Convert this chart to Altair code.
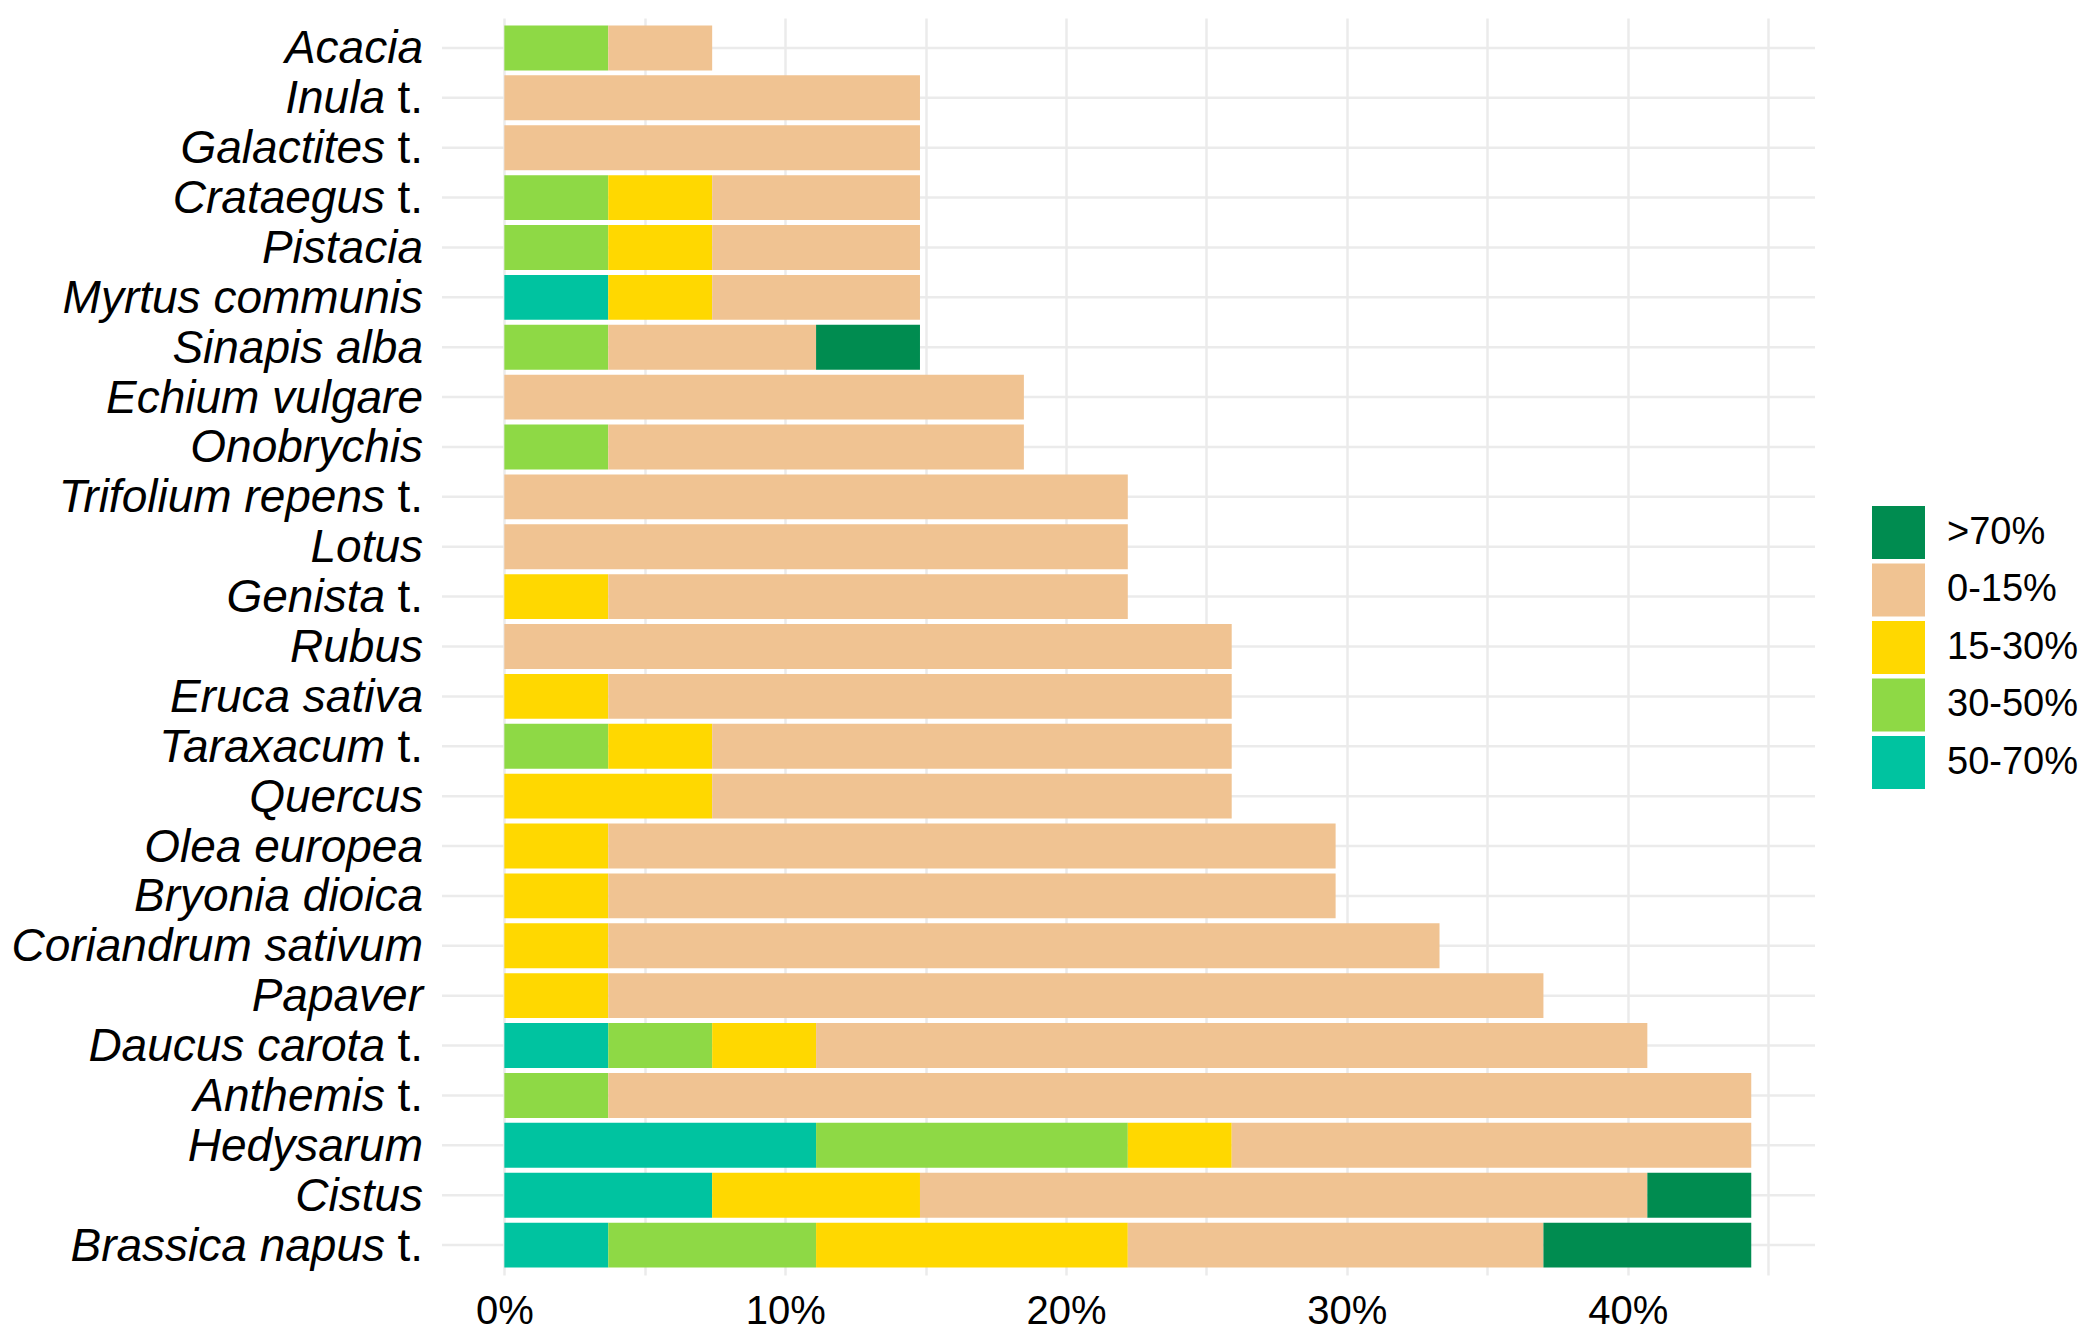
import altair as alt
import pandas as pd

# Taxa from top to bottom
taxa = ["Acacia", "Inula t.", "Galactites t.", "Crataegus t.", "Pistacia",
        "Myrtus communis", "Sinapis alba", "Echium vulgare", "Onobrychis",
        "Trifolium repens t.", "Lotus", "Genista t.", "Rubus", "Eruca sativa",
        "Taraxacum t.", "Quercus", "Olea europea", "Bryonia dioica",
        "Coriandrum sativum", "Papaver", "Daucus carota t.", "Anthemis t.",
        "Hedysarum", "Cistus", "Brassica napus t."]
italic_names = ["Acacia", "Inula", "Galactites", "Crataegus", "Pistacia",
                "Myrtus communis", "Sinapis alba", "Echium vulgare", "Onobrychis",
                "Trifolium repens", "Lotus", "Genista", "Rubus", "Eruca sativa",
                "Taraxacum", "Quercus", "Olea europea", "Bryonia dioica",
                "Coriandrum sativum", "Papaver", "Daucus carota", "Anthemis",
                "Hedysarum", "Cistus", "Brassica napus"]
suffixes = ["", "t.", "t.", "t.", "", "", "", "", "", "t.", "", "t.", "", "",
            "t.", "", "", "", "", "", "t.", "t.", "", "", "t."]

# Legend classes (legend order) and colours
classes = [">70%", "0-15%", "15-30%", "30-50%", "50-70%"]
colors = ["#008C50", "#F0C392", "#FFD800", "#8ED945", "#00C3A0"]
# stacking order from left to right
stack_order = ["50-70%", "30-50%", "15-30%", "0-15%", ">70%"]

# Segment widths (% of samples) per class, one value per taxon (top to bottom)
pct_50_70 = [0, 0, 0, 0, 0, 3.7, 0, 0, 0, 0, 0, 0, 0, 0, 0, 0, 0, 0, 0, 0,
             3.7, 0, 11.1, 7.4, 3.7]
pct_30_50 = [3.7, 0, 0, 3.7, 3.7, 0, 3.7, 0, 3.7, 0, 0, 0, 0, 0, 3.7, 0, 0, 0,
             0, 0, 3.7, 3.7, 11.1, 0, 7.4]
pct_15_30 = [0, 0, 0, 3.7, 3.7, 3.7, 0, 0, 0, 0, 0, 3.7, 0, 3.7, 3.7, 7.4, 3.7,
             3.7, 3.7, 3.7, 3.7, 0, 3.7, 7.4, 11.1]
pct_0_15 = [3.7, 14.8, 14.8, 7.4, 7.4, 7.4, 7.4, 18.5, 14.8, 22.2, 22.2, 18.5,
            25.9, 22.2, 18.5, 18.5, 25.9, 25.9, 29.6, 33.3, 29.6, 40.7, 18.5,
            25.9, 14.8]
pct_70 = [0, 0, 0, 0, 0, 0, 3.7, 0, 0, 0, 0, 0, 0, 0, 0, 0, 0, 0, 0, 0, 0, 0,
          0, 3.7, 7.4]

series = {"50-70%": pct_50_70, "30-50%": pct_30_50, "15-30%": pct_15_30,
          "0-15%": pct_0_15, ">70%": pct_70}

rows = []
for i, t in enumerate(taxa):
    for cls in stack_order:
        v = series[cls][i]
        if v > 0:
            rows.append({"taxon": t, "cls": cls, "value": v,
                         "ord": stack_order.index(cls)})
df = pd.DataFrame(rows)
lab = pd.DataFrame({"taxon": taxa, "name": italic_names, "suffix": suffixes})

FONT = "Liberation Sans"
GRID = "#EBEBEB"

yenc = alt.Y("taxon:N", sort=taxa, axis=None,
             scale=alt.Scale(paddingInner=0.1, paddingOuter=0.15))

xscale = alt.Scale(domain=[-2.22, 46.67], nice=False, zero=False)

hgrid = alt.Chart(lab).mark_rule(color=GRID, strokeWidth=2.5).encode(y=yenc)

bars = alt.Chart(df).mark_bar().encode(
    x=alt.X("value:Q", stack="zero", scale=xscale, title=None,
            axis=alt.Axis(values=[0, 5, 10, 15, 20, 25, 30, 35, 40, 45],
                          labelExpr="datum.value % 10 === 0 ? datum.value + '%' : ''",
                          grid=True, gridColor=GRID, gridWidth=2.5,
                          ticks=False, domain=False, labelFont=FONT,
                          labelFontSize=40, labelColor="black",
                          labelPadding=16, labelBaseline="top")),
    y=yenc,
    color=alt.Color("cls:N", scale=alt.Scale(domain=classes, range=colors),
                    legend=alt.Legend(title=None, orient="none", legendX=1430,
                                      legendY=488, symbolType="square",
                                      symbolSize=2809, symbolStrokeWidth=0,
                                      symbolOpacity=1, labelFont=FONT,
                                      labelFontSize=38, labelColor="black",
                                      labelOffset=22, rowPadding=4.5,
                                      padding=0)),
    order=alt.Order("ord:Q"),
)

txt_kw = dict(baseline="alphabetic", dy=15.5, font=FONT, fontSize=46,
              color="black", align="right")

names_plain = alt.Chart(lab).transform_filter("datum.suffix == ''").mark_text(
    fontStyle="italic", **txt_kw).encode(y=yenc, x=alt.value(-19), text="name:N")
names_t = alt.Chart(lab).transform_filter("datum.suffix != ''").mark_text(
    fontStyle="italic", **txt_kw).encode(y=yenc, x=alt.value(-57), text="name:N")
suff = alt.Chart(lab).transform_filter("datum.suffix != ''").mark_text(
    fontStyle="normal", **txt_kw).encode(y=yenc, x=alt.value(-19), text="suffix:N")

chart = alt.layer(hgrid, bars, names_plain, names_t, suff).properties(
    width=1373, height=1257,
    padding={"left": 434, "top": 10, "right": 268, "bottom": 60},
    autosize=alt.AutoSizeParams(type="none"),
    background="white",
).configure_view(stroke=None)

chart.save("out.html", embed_options={"renderer": "svg", "actions": False})
